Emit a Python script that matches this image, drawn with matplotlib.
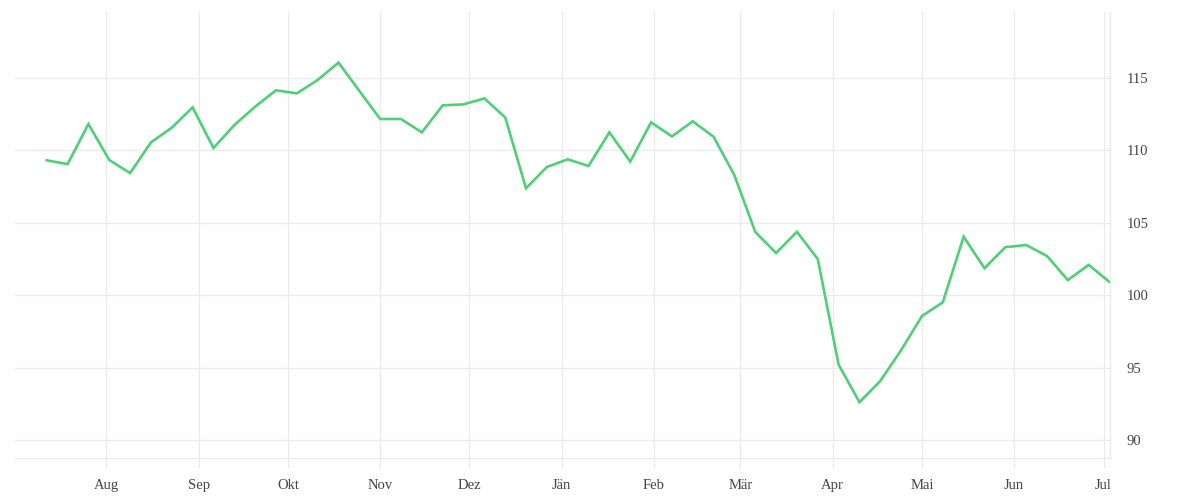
import matplotlib
matplotlib.use("Agg")
import matplotlib.pyplot as plt
import pandas as pd

# weekly values, Jul 2019 - Jul 2020
start_date = "2019-07-12"
values = [
    109.29, 109.03, 111.79, 109.31, 108.41, 110.53, 111.54, 112.94, 110.14, 111.72,
    112.99, 114.12, 113.91, 114.83, 116.03, 114.08, 112.14, 112.14, 111.22, 113.08,
    113.15, 113.56, 112.25, 107.36, 108.83, 109.36, 108.90, 111.22, 109.20, 111.91,
    110.94, 111.98, 110.92, 108.26, 104.35, 102.90, 104.36, 102.48, 95.20, 92.61,
    94.07, 96.20, 98.55, 99.50, 104.02, 101.85, 103.30, 103.45, 102.69, 101.03,
    102.08, 100.90,
]
month_starts = pd.date_range("2019-08-01", "2020-07-01", freq="MS")
month_labels = ["Aug", "Sep", "Okt", "Nov", "Dez", "Jän", "Feb", "Mär", "Apr", "Mai", "Jun", "Jul"]
y_ticks = [90, 95, 100, 105, 110, 115]

dates = pd.date_range(start_date, periods=len(values), freq="7D")

grid_col = "#ebebeb"
text_col = "#444444"
plt.rcParams["font.family"] = ["Liberation Serif", "DejaVu Serif"]

fig = plt.figure(figsize=(12, 5), dpi=100)
ax = fig.add_axes([0.0125, 0.084, 0.9125, 0.892])

ax.plot(dates, values, color="#4ecf78", linewidth=1.9, solid_joinstyle="miter")

ax.set_xlim(pd.Timestamp("2019-07-01 08:00"), dates[-1] + pd.Timedelta(hours=4))
ax.set_ylim(88.76, 119.52)

ax.set_xticks(month_starts)
ax.set_xticklabels(month_labels)
ax.set_yticks(y_ticks)

ax.yaxis.tick_right()
ax.grid(True, color=grid_col, linewidth=1)
ax.set_axisbelow(True)

for side in ["left", "top"]:
    ax.spines[side].set_visible(False)
for side in ["right", "bottom"]:
    ax.spines[side].set_color(grid_col)
    ax.spines[side].set_linewidth(1)

ax.tick_params(axis="x", length=7.2, width=1, color=grid_col, pad=8,
               labelsize=10.5, labelcolor=text_col)
ax.tick_params(axis="y", length=0, pad=12, labelsize=10.5, labelcolor=text_col)

fig.savefig("out.png", dpi=100)
